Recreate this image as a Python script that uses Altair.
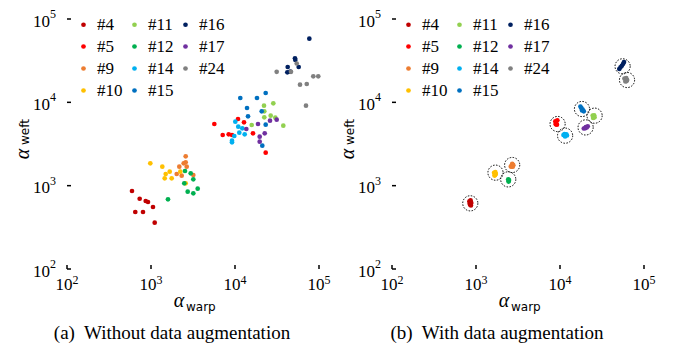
import altair as alt
import pandas as pd

# ---------------- data ----------------
GROUPS = ["#4", "#5", "#9", "#10", "#11", "#12", "#14", "#15", "#16", "#17", "#24"]
COLORS = ["#C00000", "#FF0000", "#ED7D31", "#FFC000", "#92D050", "#00B050",
          "#00B0F0", "#0070C0", "#002060", "#7030A0", "#808080"]

TICK_VALUES = [100, 1000, 10000, 100000]
TICK_BASE = ["10", "10", "10", "10"]
TICK_EXP = ["2", "3", "4", "5"]

CAPTION_A = "(a)\u00a0 Without data augmentation"
CAPTION_B = "(b)\u00a0 With data augmentation"

# panel (a): without augmentation
a_warp_4 = [594, 733, 865, 921, 1056, 650, 803, 1107]
a_weft_4 = [863, 697, 655, 637, 555, 483, 483, 360]
a_warp_5 = [5675, 10860, 12800, 7140, 8410, 9210, 16370, 23190]
a_weft_5 = [5495, 6310, 5754, 4055, 4130, 4055, 4246, 2487]
a_warp_9 = [2588, 2588, 2450, 2172, 2661, 2023, 2319, 3190]
a_weft_9 = [2250, 1905, 1854, 1690, 1690, 1380, 1318, 1343]
a_warp_10 = [981, 1363, 1496, 1670, 1456, 1763, 2233, 2588]
a_weft_10 = [1854, 1690, 1380, 1472, 1225, 1225, 1472, 1067]
a_warp_11 = [22140, 28580, 22320, 22320, 26600, 30200, 15810, 37580]
a_weft_11 = [9120, 9730, 7800, 6610, 6918, 6546, 5346, 5250]
a_warp_12 = [2540, 2970, 3190, 2490, 3597, 2735, 3190, 1593]
a_weft_12 = [1500, 1406, 1191, 1067, 920, 847, 809, 686]
a_warp_14 = [10090, 10940, 12220, 11250, 13040, 9810, 9210, 9210]
a_weft_14 = [5860, 5100, 4875, 4325, 4130, 3945, 3467, 3311]
a_warp_15 = [11560, 18280, 23190, 13900, 20800, 14290, 23190, 21130]
a_weft_15 = [11270, 11270, 12940, 8550, 7800, 6790, 5395, 3020]
a_warp_16 = [76740, 51760, 52240, 42400, 57300, 41970, 45520]
a_weft_16 = [58030, 33730, 32210, 26550, 26550, 22910, 23330]
a_warp_17 = [13640, 18790, 26100, 31350, 22580, 19680, 19680]
a_weft_17 = [4786, 5495, 6026, 6194, 4246, 3873, 3373]
a_warp_24 = [54300, 31350, 46420, 85500, 98000, 71450, 59430, 69980]
a_weft_24 = [29240, 23230, 23230, 20510, 20510, 16600, 16290, 9120]

# panel (b): with augmentation (tight clusters)
b_warp_4 = [835, 862, 878, 850, 870, 842]
b_weft_4 = [650, 668, 620, 590, 578, 612]
b_warp_5 = [8800, 9300, 9000, 9200, 8900]
b_weft_5 = [5900, 6100, 5600, 5400, 5450]
b_warp_9 = [2600, 2700, 2780, 2650, 2740]
b_weft_9 = [1700, 1830, 1760, 1690, 1690]
b_warp_10 = [1640, 1700, 1720, 1660, 1690]
b_weft_10 = [1430, 1450, 1380, 1320, 1340]
b_warp_11 = [24500, 25500, 25800, 24800]
b_weft_11 = [6950, 7000, 6600, 6500]
b_warp_12 = [2420, 2470, 2440, 2460]
b_weft_12 = [1190, 1170, 1120, 1140]
b_warp_14 = [11000, 11500, 12100, 11300, 11900]
b_weft_14 = [4050, 3900, 4000, 4150, 4120]
b_warp_15 = [17500, 18000, 18600, 19200, 18300]
b_weft_15 = [8900, 8500, 8200, 7800, 8000]
b_warp_16 = [50800, 52500, 54500, 56500, 57800]
b_weft_16 = [25100, 26300, 27500, 29000, 30400]
b_warp_17 = [19200, 20000, 20800, 21400, 20300]
b_weft_17 = [4850, 4900, 5000, 5150, 5050]
b_warp_24 = [58500, 61500, 63000, 60000, 62000]
b_weft_24 = [19300, 19500, 18500, 17800, 18000]

# dotted cluster circles (centres)
circle_group = ["#4", "#10", "#9", "#12", "#5", "#14", "#15", "#11", "#17", "#16", "#24"]
circle_warp = [855, 1707, 2695, 2420, 9360, 11500, 18260, 25820, 20180, 55630, 62780]
circle_weft = [614, 1432, 1770, 1190, 5495, 3981, 8318, 6918, 5000, 27040, 18530]

A_SERIES = [
    ("#4", a_warp_4, a_weft_4), ("#5", a_warp_5, a_weft_5), ("#9", a_warp_9, a_weft_9),
    ("#10", a_warp_10, a_weft_10), ("#11", a_warp_11, a_weft_11), ("#12", a_warp_12, a_weft_12),
    ("#14", a_warp_14, a_weft_14), ("#15", a_warp_15, a_weft_15), ("#16", a_warp_16, a_weft_16),
    ("#17", a_warp_17, a_weft_17), ("#24", a_warp_24, a_weft_24),
]
B_SERIES = [
    ("#4", b_warp_4, b_weft_4), ("#5", b_warp_5, b_weft_5), ("#9", b_warp_9, b_weft_9),
    ("#10", b_warp_10, b_weft_10), ("#11", b_warp_11, b_weft_11), ("#12", b_warp_12, b_weft_12),
    ("#14", b_warp_14, b_weft_14), ("#15", b_warp_15, b_weft_15), ("#16", b_warp_16, b_weft_16),
    ("#17", b_warp_17, b_weft_17), ("#24", b_warp_24, b_weft_24),
]


def to_df(series):
    rows = []
    for g, xs, ys in series:
        for x, y in zip(xs, ys):
            rows.append({"group": g, "warp": x, "weft": y})
    return pd.DataFrame(rows)


# ---------------- styling ----------------
W, H = 252, 250
SERIF = "Liberation Serif"
SANS = "DejaVu Sans"

xs = alt.Scale(type="log", domain=[100, 100000], nice=False)
ys = alt.Scale(type="log", domain=[100, 100000], nice=False)
axis_style = dict(title=None, labels=False, ticks=False, grid=False,
                  domainColor="black", domainWidth=1.8)

tick_df = pd.DataFrame({"v": TICK_VALUES, "base": TICK_BASE, "exp": TICK_EXP})


def panel(series, caption, with_circles, ytitle_y):
    cs = alt.Scale(domain=GROUPS, range=COLORS)
    pts = alt.Chart(to_df(series)).mark_circle(size=22, opacity=1).encode(
        x=alt.X("warp:Q", scale=xs, axis=alt.Axis(**axis_style)),
        y=alt.Y("weft:Q", scale=ys, axis=alt.Axis(**axis_style)),
        color=alt.Color("group:N", scale=cs, legend=alt.Legend(
            title=None, orient="none", legendX=8, legendY=-3, columns=3,
            symbolType="circle", symbolSize=22, symbolStrokeWidth=0,
            labelFont=SERIF, labelFontSize=17, labelColor="black",
            columnPadding=3, rowPadding=4, labelOffset=5, padding=0,
            gridAlign="all")),
    )
    tb = alt.Chart(tick_df)
    xt = tb.mark_rule(color="black", strokeWidth=1.5).encode(
        x=alt.X("v:Q", scale=xs, axis=None), y=alt.value(H), y2=alt.value(H - 4))
    yt = tb.mark_rule(color="black", strokeWidth=1.5).encode(
        y=alt.Y("v:Q", scale=ys, axis=None), x=alt.value(0), x2=alt.value(4))
    xl = tb.mark_text(font=SERIF, fontSize=17, align="center", baseline="middle", dx=-3).encode(
        x=alt.X("v:Q", scale=xs, axis=None), y=alt.value(H + 16), text="base:N")
    xe = tb.mark_text(font=SERIF, fontSize=12, align="left", baseline="middle", dx=5.5).encode(
        x=alt.X("v:Q", scale=xs, axis=None), y=alt.value(H + 10.5), text="exp:N")
    yl = tb.mark_text(font=SERIF, fontSize=17, align="right", baseline="middle", dy=2.5).encode(
        y=alt.Y("v:Q", scale=ys, axis=None), x=alt.value(-17), text="base:N")
    ye = tb.mark_text(font=SERIF, fontSize=12, align="left", baseline="middle", dy=-5).encode(
        y=alt.Y("v:Q", scale=ys, axis=None), x=alt.value(-17), text="exp:N")
    one = alt.Chart(pd.DataFrame({"a": [0]}))
    xa = one.mark_text(font=SERIF, fontStyle="italic", fontSize=20, align="center",
                       baseline="alphabetic").encode(x=alt.value(112), y=alt.value(H + 38),
                                                     text=alt.value("α"))
    xw = one.mark_text(font=SANS, fontSize=12, align="left", baseline="alphabetic").encode(
        x=alt.value(119), y=alt.value(H + 42), text=alt.value("warp"))
    ya = one.mark_text(font=SERIF, fontStyle="italic", fontSize=20, align="center",
                       baseline="middle", angle=270).encode(
        x=alt.value(-44), y=alt.value(ytitle_y), text=alt.value("α"))
    yw = one.mark_text(font=SANS, fontSize=12, align="center", baseline="middle", angle=270).encode(
        x=alt.value(-42), y=alt.value(ytitle_y - 22), text=alt.value("weft"))
    cap = one.mark_text(font=SERIF, fontSize=19, align="center", baseline="middle").encode(
        x=alt.value(105), y=alt.value(H + 64), text=alt.value(caption))
    layers = [pts, xt, yt, xl, xe, yl, ye, xa, xw, ya, yw, cap]
    if with_circles:
        cdf = pd.DataFrame({"group": circle_group, "warp": circle_warp, "weft": circle_weft})
        circ = alt.Chart(cdf).mark_point(shape="circle", size=230, filled=False, color="black",
                                         strokeWidth=1, strokeDash=[1.5, 1.5], opacity=1).encode(
            x=alt.X("warp:Q", scale=xs, axis=None), y=alt.Y("weft:Q", scale=ys, axis=None))
        layers.append(circ)
    return alt.layer(*layers).properties(width=W, height=H)


chart = alt.hconcat(
    panel(A_SERIES, CAPTION_A, False, 135),
    panel(B_SERIES, CAPTION_B, True, 135),
    spacing=7,
).resolve_scale(color="independent").configure_view(stroke=None).configure_legend(
    labelFont=SERIF, labelFontSize=17
).properties(
    padding={"left": 5, "top": 0, "right": 0, "bottom": 0}
)

chart.save("out.html", embed_options={"renderer": "svg", "actions": False})
